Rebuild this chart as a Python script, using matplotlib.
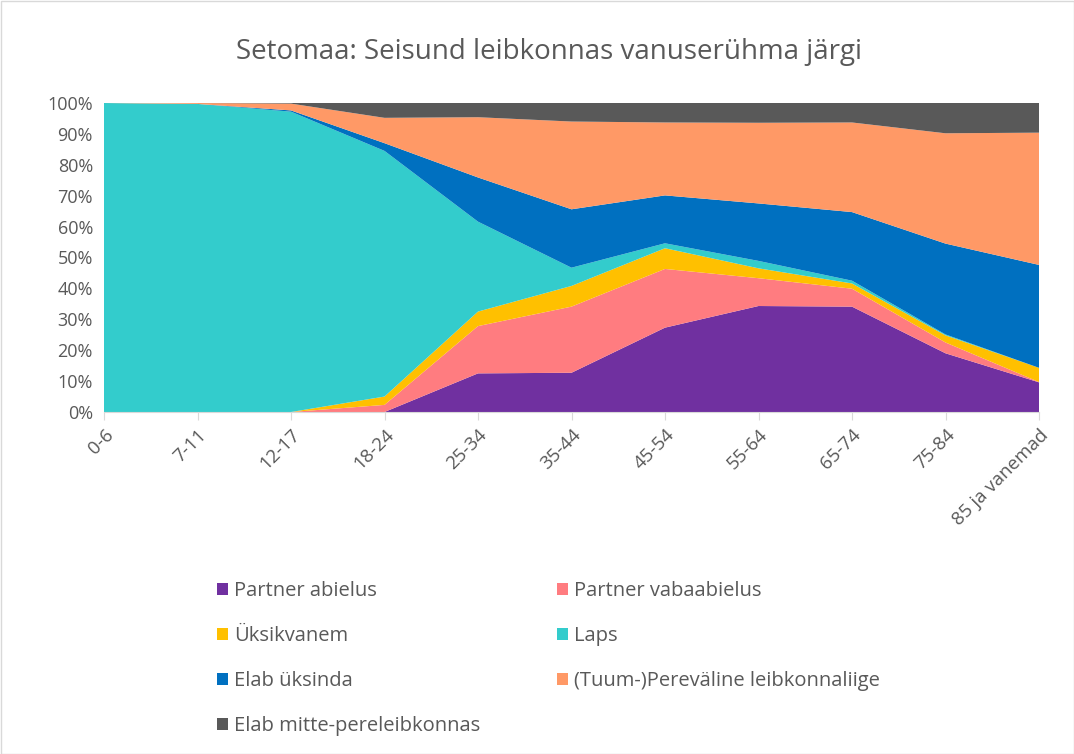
import matplotlib
matplotlib.use("Agg")
import matplotlib.pyplot as plt
from matplotlib.patches import Patch, Rectangle
import numpy as np

plt.rcParams['font.family'] = ['Open Sans', 'DejaVu Sans']

categories = ["0-6", "7-11", "12-17", "18-24", "25-34", "35-44", "45-54",
              "55-64", "65-74", "75-84", "85 ja vanemad"]

partner_abielus     = [0.0, 0.0, 0.0, 0.0, 12.5, 12.7, 27.3, 34.3, 34.1, 19.0, 9.6]
partner_vabaabielus = [0.0, 0.0, 0.0, 2.3, 15.3, 21.4, 19.0, 9.0, 5.8, 3.5, 0.1]
uksikvanem          = [0.0, 0.0, 0.0, 2.7, 4.7, 6.7, 6.7, 3.2, 1.7, 2.3, 4.6]
laps                = [100.0, 99.7, 97.2, 79.5, 29.1, 5.9, 1.6, 2.4, 0.9, 0.3, 0.0]
elab_uksinda        = [0.0, 0.0, 0.4, 2.5, 14.3, 18.9, 15.5, 18.6, 22.2, 29.4, 33.3]
tuum_pereline       = [0.0, 0.3, 2.2, 8.2, 19.5, 28.4, 23.6, 26.1, 29.0, 35.7, 42.8]
elab_mitte          = [0.0, 0.0, 0.2, 4.8, 4.6, 6.0, 6.3, 6.4, 6.3, 9.8, 9.6]

labels = ["Partner abielus", "Partner vabaabielus", "Üksikvanem", "Laps",
          "Elab üksinda", "(Tuum-)Pereväline leibkonnaliige", "Elab mitte-pereleibkonnas"]
colors = ["#7030A0", "#FF7C80", "#FFC000", "#33CCCC", "#0070C0", "#FF9966", "#595959"]

series = [partner_abielus, partner_vabaabielus, uksikvanem, laps,
          elab_uksinda, tuum_pereline, elab_mitte]
# normalise to 100%
arr = np.array(series, dtype=float)
arr = arr / arr.sum(axis=0) * 100

txt = "#595959"
fig = plt.figure(figsize=(10.74, 7.54), dpi=100)
ax = fig.add_axes([104/1074, 1-412/754, (1039-104)/1074, (412-103)/754])

x = np.arange(len(categories))
ax.stackplot(x, arr, colors=colors, labels=labels, linewidth=0)

ax.set_xlim(0, len(categories)-1)
ax.set_ylim(0, 100)
ax.set_yticks(np.arange(0, 101, 10))
ax.set_yticklabels([f"{v}%" for v in range(0, 101, 10)], fontsize=13, color=txt)
ax.set_xticks(x)
ax.set_xticklabels(categories, rotation=45, ha='right', rotation_mode='anchor',
                   fontsize=13.5, color=txt)
ax.tick_params(axis='y', length=0, pad=8)
ax.tick_params(axis='x', length=6, color="#D9D9D9", pad=4)
for s in ['top', 'right', 'left']:
    ax.spines[s].set_visible(False)
ax.spines['bottom'].set_color("#D9D9D9")

fig.text(549/1074, 1-52/754, "Setomaa: Seisund leibkonnas vanuserühma järgi",
         ha='center', va='center', fontsize=20, color=txt)

handles = [Patch(facecolor=c, edgecolor='none') for c in colors]
order = [0, 2, 4, 6, 1, 3, 5]
fig.legend([handles[i] for i in order], [labels[i] for i in order],
           loc='upper left', bbox_to_anchor=(199/1074, 1-563/754), ncol=2,
           frameon=False, fontsize=14.5, labelcolor=txt,
           handlelength=0.55, handleheight=0.55, handletextpad=0.3,
           labelspacing=1.24, columnspacing=3.8)

fig.patches.append(Rectangle((0.5/1074, 0.5/754), 1-1/1074, 1-1/754, transform=fig.transFigure,
                             fill=False, edgecolor="#D9D9D9", linewidth=1))

fig.savefig("out.png", dpi=100)
